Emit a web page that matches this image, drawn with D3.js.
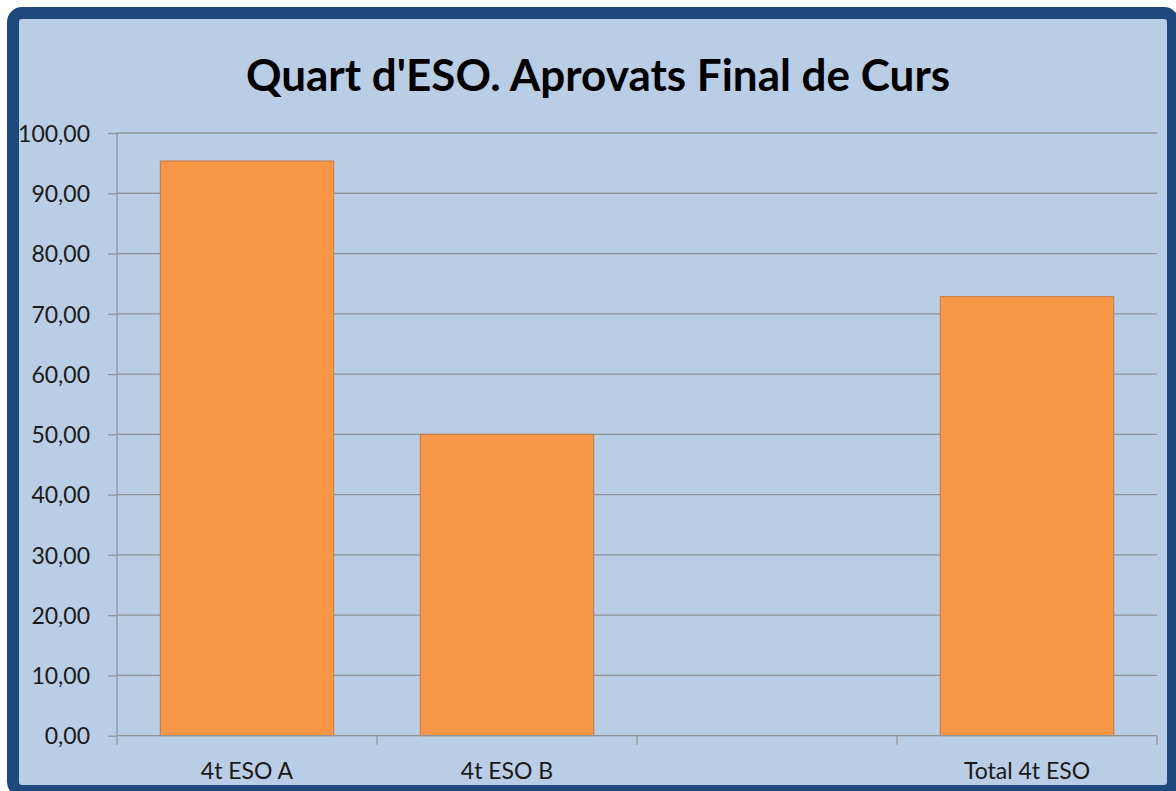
<!DOCTYPE html>
<html>
<head>
<meta charset="utf-8">
<title>Quart d'ESO. Aprovats Final de Curs</title>
<script src="https://cdn.jsdelivr.net/npm/d3@7"></script>
<style>
  body { margin: 0; background: #fff; }
  text { font-family: Lato, "Open Sans", sans-serif; }
  .grid line { stroke: #8f9499; stroke-width: 1.3px; }
  .axis path, .axis line { stroke: #8f9499; stroke-width: 1.3px; }
  .axis text { fill: #1a1a1a; font-size: 23px; }
</style>
</head>
<body>
<script>
// chart data
var categories = ["4t ESO A", "4t ESO B", "", "Total 4t ESO"];
var values = [95.35, 50.0, null, 72.85];
var yTicks = [0, 10, 20, 30, 40, 50, 60, 70, 80, 90, 100];
var title = "Quart d'ESO. Aprovats Final de Curs";

var W = 1176, H = 791;
var svg = d3.select("body").append("svg")
    .attr("width", W)
    .attr("height", H);

// frame
svg.append("rect")
    .attr("x", 13).attr("y", 13)
    .attr("width", 1160).attr("height", 778)
    .attr("rx", 9)
    .attr("fill", "#b9cde5")
    .attr("stroke", "#1f497d")
    .attr("stroke-width", 12);

// plot area (don't call it "top", that's window.top)
var pLeft = 117, pRight = 1157, pTop = 133, pBottom = 735.7;

var x = d3.scaleBand().domain(d3.range(categories.length)).range([pLeft, pRight]).padding(0);
var y = d3.scaleLinear().domain([0, 100]).range([pBottom, pTop]);

// gridlines
svg.append("g").attr("class", "grid")
  .selectAll("line")
  .data(yTicks.filter(function (d) { return d > 0; }))
  .enter().append("line")
    .attr("x1", pLeft).attr("x2", pRight)
    .attr("y1", function (d) { return y(d); })
    .attr("y2", function (d) { return y(d); });

// bars (gap width 50%)
var barW = x.bandwidth() / 1.5;
svg.append("g").selectAll("rect")
  .data(values.map(function (v, i) { return {i: i, v: v}; }).filter(function (d) { return d.v != null; }))
  .enter().append("rect")
    .attr("x", function (d) { return x(d.i) + (x.bandwidth() - barW) / 2; })
    .attr("y", function (d) { return y(d.v); })
    .attr("width", barW)
    .attr("height", function (d) { return y(0) - y(d.v); })
    .attr("fill", "#f79646")
    .attr("stroke", "#c9783c")
    .attr("stroke-width", 1);

// y axis
var yAxis = svg.append("g").attr("class", "axis")
    .attr("transform", "translate(" + pLeft + ",0)")
    .call(d3.axisLeft(y).tickValues(yTicks).tickSize(9).tickPadding(18)
        .tickFormat(function (d) { return d3.format(".2f")(d).replace(".", ","); }));
yAxis.select(".domain").attr("d", "M0," + pTop + "V" + pBottom);
yAxis.selectAll("text").attr("dy", "0.36em");

// x axis
var xAxis = svg.append("g").attr("class", "axis")
    .attr("transform", "translate(0," + pBottom + ")");
xAxis.append("line").attr("x1", pLeft).attr("x2", pRight).attr("y1", 0).attr("y2", 0);
xAxis.selectAll(".tk")
  .data(d3.range(categories.length + 1))
  .enter().append("line")
    .attr("class", "tk")
    .attr("x1", function (d) { return pLeft + d * x.step(); })
    .attr("x2", function (d) { return pLeft + d * x.step(); })
    .attr("y1", 0).attr("y2", 9);
xAxis.selectAll(".lbl")
  .data(categories)
  .enter().append("text")
    .attr("class", "lbl")
    .attr("x", function (d, i) { return x(i) + x.bandwidth() / 2; })
    .attr("y", 43)
    .attr("text-anchor", "middle")
    .text(function (d) { return d; });

// title
svg.append("text")
    .attr("x", 598).attr("y", 91)
    .attr("text-anchor", "middle")
    .attr("font-size", 44)
    .attr("font-weight", "bold")
    .attr("fill", "#000")
    .text(title);
</script>
</body>
</html>
